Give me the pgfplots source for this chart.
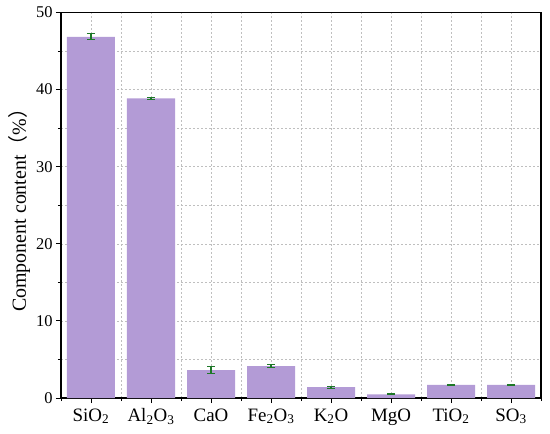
\documentclass[border=0pt]{standalone}
\usepackage{pgfplots}
\pgfplotsset{compat=1.18}
\usepackage{fontspec}
\setmainfont{Liberation Serif}
\newfontfamily\cjk{Noto Sans CJK SC}
\definecolor{barc}{RGB}{179,155,214}
\definecolor{errc}{RGB}{30,120,40}
\begin{document}
\begin{tikzpicture}
\path[use as bounding box] (-61bp,-36bp) rectangle (489bp,398bp);
\begin{axis}[
  scale only axis,
  width=480bp, height=385.5bp,
  xmin=-0.5, xmax=7.5,
  ymin=0, ymax=50,
  xtick={0,...,7},
  minor xtick={-0.5,0.5,...,7.5},
  xticklabels={SiO\textsubscript{2}, Al\textsubscript{2}O\textsubscript{3}, CaO, Fe\textsubscript{2}O\textsubscript{3}, K\textsubscript{2}O, MgO, TiO\textsubscript{2}, SO\textsubscript{3}},
  ytick={0,10,...,50},
  minor ytick={5,15,...,45},
  xtick pos=bottom, ytick pos=left,
  tick align=outside,
  major tick length=5bp, minor tick length=3bp,
  tick style={black, line width=1pt},
  axis line style={black, line width=1.2pt},
  grid=both,
  major grid style={gray!50, dash pattern=on 2bp off 2bp, line width=0.5pt},
  minor grid style={gray!50, dash pattern=on 2bp off 2bp, line width=0.5pt},
  /pgf/number format/assume math mode=true,
  xticklabel style={font=\fontsize{19}{22}\selectfont, yshift=-2bp},
  yticklabel style={font=\fontsize{16.5}{19}\selectfont},
  ylabel={Component content{\cjk （}\%{\cjk ）}},
  ylabel style={font=\fontsize{20}{23}\selectfont, yshift=-1bp},
]
\addplot[ybar, bar width=0.8, fill=barc, draw=none,
  error bars/.cd, y dir=both, y explicit,
  error bar style={draw=errc, line width=1.1pt},
  error mark options={draw=errc, rotate=90, mark size=4bp, line width=1.1pt}]
  coordinates {
  (0,46.85) +- (0,0.4)
  (1,38.87) +- (0,0.15)
  (2,3.63) +- (0,0.45)
  (3,4.15) +- (0,0.25)
  (4,1.40) +- (0,0.15)
  (5,0.48) +- (0,0.06)
  (6,1.69) +- (0,0.10)
  (7,1.69) +- (0,0.08)
  };
\end{axis}
\end{tikzpicture}
\end{document}
